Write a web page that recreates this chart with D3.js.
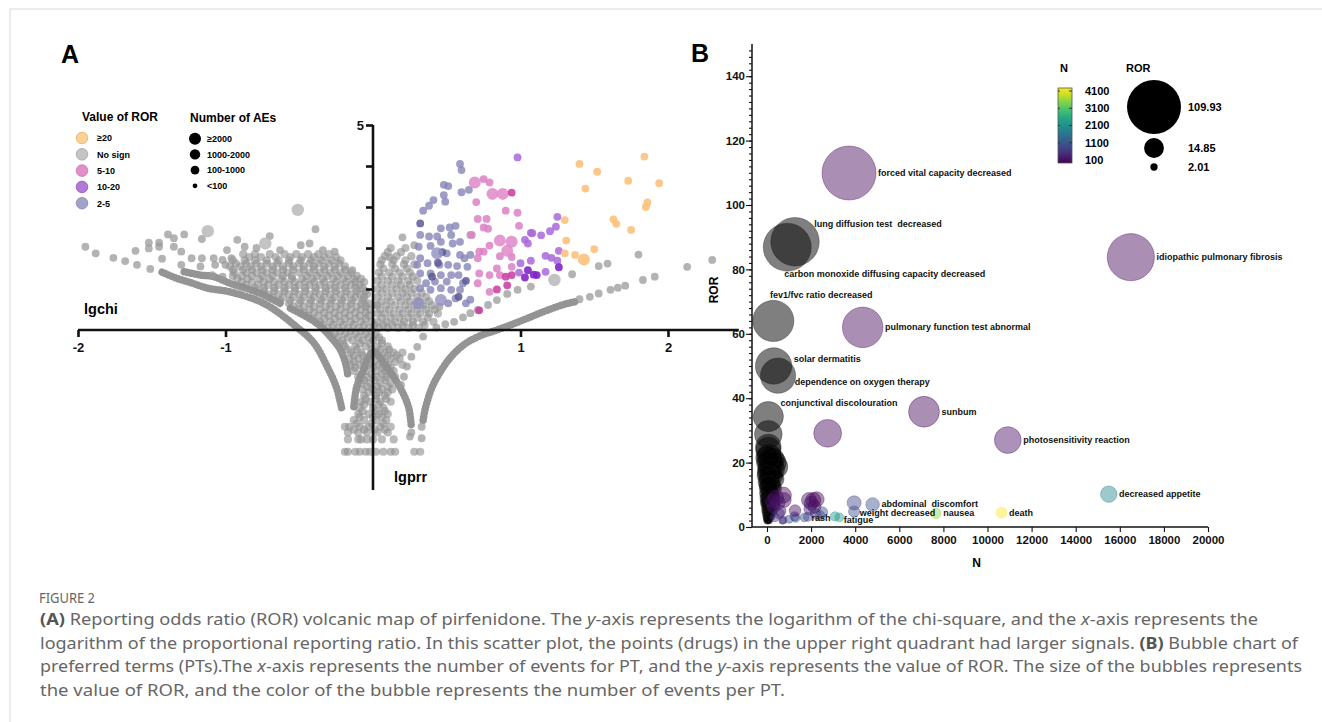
<!DOCTYPE html>
<meta charset="utf-8">
<style>
body { margin: 0; background: #fff; }
svg text { font-family: "Liberation Sans", Arial, sans-serif; }
.bold { font-weight: bold; }
.cap { font-family: "Noto Sans", "Open Sans", sans-serif; fill: #666; }
</style>
<svg width="1322" height="722"></svg>
<script src="https://d3js.org/d3.v7.min.js"></script>
<script>

// ---------- panel A data: [lgprr, lgchi] ----------
var grayPts = [
  [-0.39,2.46],[-0.70,2.29],[-0.92,2.2],[-0.87,2.03],[-0.79,2.0],[-0.63,1.95],[-0.49,2.07],[-0.43,2.11],[-0.34,1.95],[-0.26,1.91],
  [-0.14,1.46],[-0.05,0.61],[0.025,0.61],
  [-1.39,2.33],[-1.28,2.33],[-1.35,2.24],[-1.16,2.22],[-1.52,2.13],[-1.45,2.13],[-1.52,1.99],[-1.45,2.03],[-1.35,2.03],[-1.61,1.93],
  [-1.30,1.91],[-0.99,1.95],[-1.23,1.75],[-1.16,1.75],[-1.08,1.75],[-1.02,1.71],[-1.43,1.74],[-1.30,1.59],[-1.17,1.55],[-1.07,1.59],
  [-1.00,1.59],[-0.96,1.75],[-1.09,1.34],[-1.02,1.30],
  [-1.95,2.03],[-1.88,1.87],[-1.76,1.76],[-1.68,1.68],[-1.60,1.59],[-1.51,1.49],
  [0.20,2.26],[0.115,1.77],[0.28,2.07],[0.66,2.32],[0.45,0.57],
  [0.34,-0.16],[0.30,-0.41],[0.26,-0.65],[0.23,-0.89],[0.21,-1.14],[0.19,-1.34],[0.33,-2.36],[0.33,-2.64],[0.26,-2.5],[0.25,-2.6],
  [0.43,0.06],[0.49,0.14],[0.55,0.2],[0.61,0.31],[0.66,0.41],[0.71,0.49],[0.78,0.61],[0.84,0.73],[0.91,0.88],[0.98,0.98],
  [1.07,1.06],[1.35,1.36],[1.53,1.56],[1.59,1.62],[1.80,1.84],
  [1.40,0.75],[1.47,0.81],[1.53,0.89],[1.61,0.98],[1.66,1.03],[1.71,1.08],[1.83,1.22],[1.91,1.30],[2.13,1.54],[2.30,1.71]
];
var grayBig = [[-0.51,2.93],[-1.12,2.41],[-0.73,2.11],[1.23,1.22]];

// dense part of the gray cloud, read row by row: [lgchi, [lgprr, ...]]
var cloudRows = [
  [1.85, [-0.88,-0.8,-0.7,-0.6,-0.52,-0.44,-0.37,-0.3]],
  [1.78, [-0.84,-0.76,-0.66,-0.56,-0.48,-0.4,-0.33,-0.25]],
  [1.7,  [-0.95,-0.87,-0.8,-0.72,-0.64,-0.57,-0.49,-0.42,-0.35,-0.28,-0.22]],
  [1.62, [-0.93,-0.86,-0.79,-0.72,-0.65,-0.57,-0.5,-0.43,-0.37,-0.3,-0.23]],
  [1.55, [-0.97,-0.9,-0.83,-0.76,-0.68,-0.61,-0.54,-0.47,-0.4,-0.33,-0.26,-0.19]],
  [1.47, [-0.95,-0.88,-0.82,-0.75,-0.68,-0.61,-0.54,-0.47,-0.4,-0.33,-0.26,-0.19]],
  [1.4,  [-0.94,-0.86,-0.79,-0.72,-0.65,-0.58,-0.5,-0.43,-0.36,-0.29,-0.22,-0.15]],
  [1.32, [-0.95,-0.89,-0.82,-0.75,-0.68,-0.61,-0.55,-0.45,-0.38,-0.31,-0.24,-0.17,-0.11]],
  [1.25, [-0.92,-0.85,-0.77,-0.7,-0.62,-0.55,-0.48,-0.41,-0.34,-0.27,-0.2,-0.13,-0.08]],
  [1.17, [-0.89,-0.82,-0.74,-0.67,-0.6,-0.53,-0.46,-0.4,-0.33,-0.25,-0.18,-0.12,-0.06]],
  [1.1,  [-0.86,-0.78,-0.71,-0.64,-0.57,-0.5,-0.43,-0.36,-0.29,-0.22,-0.15,-0.09]],
  [1.02, [-0.8,-0.74,-0.67,-0.6,-0.53,-0.46,-0.39,-0.32,-0.26,-0.19,-0.12,-0.07]],
  [0.95, [-0.74,-0.67,-0.6,-0.53,-0.46,-0.39,-0.32,-0.25,-0.18,-0.11,-0.05]],
  [0.87, [-0.71,-0.64,-0.57,-0.5,-0.43,-0.36,-0.29,-0.22,-0.15,-0.09,-0.04]],
  [0.8,  [-0.68,-0.61,-0.54,-0.47,-0.4,-0.33,-0.26,-0.19,-0.12,-0.06]],
  [0.72, [-0.63,-0.56,-0.49,-0.42,-0.35,-0.28,-0.21,-0.14,-0.07]],
  [0.65, [-0.57,-0.5,-0.43,-0.36,-0.29,-0.22,-0.15,-0.08,-0.03]],
  [0.57, [-0.54,-0.47,-0.4,-0.32,-0.25,-0.18,-0.11,-0.05]],
  [0.5,  [-0.5,-0.43,-0.36,-0.29,-0.22,-0.15,-0.08,-0.02]],
  [0.42, [-0.47,-0.4,-0.33,-0.26,-0.19,-0.12,-0.05]],
  [0.35, [-0.44,-0.37,-0.3,-0.23,-0.16,-0.09,-0.03]],
  [0.27, [-0.41,-0.33,-0.26,-0.19,-0.12,-0.05]],
  [0.2,  [-0.36,-0.29,-0.22,-0.15,-0.08,-0.01]],
  [0.12, [-0.34,-0.27,-0.2,-0.13,-0.06,0.01]],
  [0.05, [-0.31,-0.24,-0.17,-0.1,-0.03]],
  [-0.03,[-0.29,-0.22,-0.15,-0.08,-0.01]],
  [-0.1, [-0.26,-0.19,-0.12,-0.05,0.02]],
  [-0.18,[-0.24,-0.17,-0.1,-0.03,0.04]],
  [-0.25,[-0.21,-0.14,-0.07,0.0,0.06]],
  [-0.33,[-0.2,-0.09,-0.02,0.06]],
  [-0.4, [-0.19,-0.12,-0.05,0.03,0.1]],
  [-0.48,[-0.17,-0.11,-0.01,0.05,0.11]],
  [-0.55,[-0.15,-0.08,0.02,0.08,0.14,0.2]],
  [-0.62,[-0.13,-0.07,0.03,0.1,0.16]],
  [-0.7, [-0.16,-0.1,-0.04,0.06,0.12,0.18]],
  [-0.78,[-0.13,-0.06,0.01,0.08,0.15]],
  [-0.85,[-0.15,-0.09,-0.03,0.04,0.1,0.2]],
  [-0.92,[-0.12,-0.06,0.0,0.06,0.12]],
  [-1.0, [-0.13,-0.05,0.02,0.08,0.14]],
  [-1.08,[-0.08,-0.01,0.06,0.12]],
  [-1.15,[-0.1,-0.04,0.03,0.09,0.15]],
  [-1.22,[-0.06,0.01,0.08]],
  [-1.3, [-0.08,-0.02,0.05,0.12]],
  [-1.38,[-0.04,0.03,0.1]],
  [-1.45,[-0.07,0.0,0.06,0.13]],
  [-1.52,[-0.03,0.04,0.1]],
  [-1.6, [-0.06,0.02,0.08]],
  [-1.68,[-0.05,0.02,0.09]],
  [-1.75,[-0.08,-0.02,0.05,0.12]],
  [-1.82,[-0.06,0.04]],
  [-1.9, [-0.09,0.0,0.07]],
  [-1.98,[-0.07,0.02,0.08]],
  [-2.05,[-0.1,-0.03,0.04,0.1]],
  [-2.12,[-0.09,0.0,0.06]],
  [-2.2, [-0.13,-0.06,0.02,0.09]],
  [-2.28,[-0.11,-0.01,0.07]],
  [-2.36,[-0.19,-0.16,-0.09,-0.03,0.05,0.12]],
  [-2.43,[-0.13,-0.06,0.01,0.08]],
  [-2.5, [-0.17,-0.1,-0.04,0.03,0.1]],
  [-2.67,[-0.17,-0.1,-0.08,-0.04,0.0,0.06,0.14]],
  [-2.97,[-0.19,-0.17,-0.12,-0.09,-0.05,-0.02,0.02,0.07,0.12,0.15,0.28,0.32]],
  // right of the y axis
  [2.0,  [0.12,0.22]],
  [1.9,  [0.1,0.19]],
  [1.8,  [0.08,0.16,0.26]],
  [1.7,  [0.06,0.14,0.22]],
  [1.6,  [0.05,0.13,0.21,0.28]],
  [1.5,  [0.07,0.15,0.23]],
  [1.4,  [0.04,0.11,0.18,0.25]],
  [1.3,  [0.06,0.13,0.2,0.27]],
  [1.2,  [0.03,0.1,0.17,0.24,0.3]],
  [1.1,  [0.06,0.13,0.19,0.25]],
  [1.0,  [0.03,0.09,0.16,0.22,0.28]],
  [0.9,  [0.06,0.13,0.2,0.26,0.33]],
  [0.8,  [0.03,0.1,0.17,0.23,0.3,0.36]],
  [0.7,  [0.06,0.12,0.19,0.25,0.31,0.38]],
  [0.6,  [0.03,0.09,0.15,0.22,0.28,0.34,0.4]],
  [0.5,  [0.05,0.11,0.18,0.24,0.3,0.36,0.42]],
  [0.4,  [0.03,0.08,0.14,0.2,0.26,0.32,0.38,0.44]],
  [0.3,  [0.06,0.12,0.18,0.24,0.3,0.37]],
  [0.2,  [0.03,0.09,0.15,0.21,0.27,0.34,0.41]],
  [0.12, [0.07,0.13,0.2,0.27,0.35]],
  [0.05, [0.04,0.1,0.17,0.24,0.31]]
];

// dense bands of gray points
var bandLeftOuter = [[-1.43,1.41],[-1.33,1.26],[-1.24,1.16],[-1.12,1.02],[-0.97,0.93],[-0.74,0.65],[-0.52,0.08],
  [-0.40,-0.32],[-0.31,-0.9],[-0.25,-1.38],[-0.21,-1.95]];
var bandLeftInner1 = [[-1.28,1.42],[-1.17,1.34],[-1.08,1.30],[-0.97,1.14],[-0.79,0.93],[-0.63,0.65]];
var bandLeftInner2 = [[-0.56,0.53],[-0.38,0.16],[-0.29,-0.16],[-0.22,-0.49],[-0.18,-0.9],[-0.17,-1.14]];
var bandPeak = [[-0.13,-1.87],[-0.11,-1.38],[-0.065,-0.98],[0,-0.53],[0.09,-0.9],[0.18,-1.38],[0.24,-1.87],[0.26,-2.36]];
var bandRightOuter = [[0.34,-2.2],[0.355,-1.91],[0.40,-1.4],[0.46,-1.0],[0.53,-0.65],[0.62,-0.35],[0.72,-0.15],[0.84,0.0],
  [0.96,0.16],[1.07,0.32],[1.18,0.48],[1.30,0.63],[1.37,0.69]];

var ror2to5 = [[0.59,4.05],[0.60,3.90],[0.48,3.54],[0.51,3.51],[0.60,3.36],[0.65,3.42],[0.48,3.29],[0.49,3.13],[0.41,3.17],[0.38,3.03],
  [0.34,2.91],[0.46,2.48],[0.52,2.50],[0.56,2.54],[0.38,2.28],[0.435,2.28],[0.32,2.32],[0.53,2.32],[0.39,2.05],[0.46,2.15],
  [0.54,2.11],[0.59,2.15],[0.31,2.03],[0.50,1.87],[0.59,1.83],[0.62,1.75],[0.66,1.83],[0.32,1.75],[0.30,1.59],[0.37,1.63],
  [0.45,1.59],[0.51,1.59],[0.57,1.56],[0.64,1.54],[0.32,1.38],[0.39,1.38],[0.46,1.34],[0.53,1.34],[0.58,1.34],[0.36,1.14],
  [0.42,1.18],[0.50,1.18],[0.61,1.14],[0.32,1.02],[0.39,0.98],[0.46,1.02],[0.53,0.98],[0.59,0.98],[0.56,0.77],[0.66,0.74],
  [0.63,0.65],[0.51,0.65]];
var ror2to5Dark = [[0.32,2.60],[0.58,0.81],[0.44,1.64],[0.63,1.2],[0.40,1.3],[0.47,1.9]];
var ror2to5Big = [[0.435,1.87],[0.46,0.73],[0.31,0.65]];
var ror5to10 = [[0.75,3.68],[0.79,3.60],[0.70,3.12],[0.90,2.91],[0.98,2.86],[0.71,2.71],[0.77,2.71],[0.75,2.50],[0.78,2.47],[0.99,2.54],
  [0.67,2.32],[0.79,2.06],[0.72,1.91],[0.75,1.91],[0.71,1.75],[0.86,1.80],[0.94,1.78],[0.84,1.50],[0.94,1.54],[0.72,1.38],
  [0.79,1.34],[0.86,1.34],[0.71,1.14],[0.79,0.93]];
var ror5to10Dark = [[0.94,3.35],[0.90,1.30],[0.94,1.34],[0.84,0.99],[0.91,1.09],[0.72,0.48]];
var ror5to10Big = [[0.69,3.60],[0.81,3.32],[0.88,3.32],[0.86,2.18],[0.94,2.15],[0.91,1.93]];
var ror10to20 = [[0.98,4.21],[1.07,2.37],[1.03,2.20],[1.05,2.11],[1.00,1.63],[1.07,1.69],[0.99,1.40],[1.25,2.76],[1.24,2.52],[1.20,2.41],
  [1.14,2.31],[1.08,2.36],[1.26,1.93],[1.17,1.81],[1.21,1.76],[1.25,1.69],[1.17,1.42]];
var ror10to20Dark = [[1.05,1.46],[1.03,1.28],[1.11,1.34],[1.26,1.53],[1.09,1.35]];
var rorGe20 = [[1.84,4.23],[1.40,4.05],[1.52,3.86],[1.73,3.64],[1.94,3.58],[1.44,3.45],[1.86,3.11],[1.85,3.0],[1.30,2.68],[1.63,2.70],
  [1.65,2.59],[1.75,2.44],[1.31,2.18],[1.50,1.97],[1.30,1.87],[1.37,1.83]];
var rorGe20Big = [[1.43,1.72]];

var rorLegend = ["\u226520", "No sign", "5-10", "10-20", "2-5"];
var aeLegend = ["\u22652000", "1000-2000", "100-1000", "<100"];

// ---------- panel B data ----------
var bubbleN =   [3720, 1270, 920, 16500, 286, 4340, 300, 500, 60, 60, 60, 7120, 2750, 10920, 15500, 10640, 7660, 4790, 3950, 3950, 3280, 3080, 1860];
var bubbleROR = [109.93, 88.6, 86.9, 83.8, 64.0, 62.0, 50.0, 47.0, 34.3, 28.8, 24.9, 35.8, 29.1, 27.0, 10.2, 4.45, 4.25, 7.0, 4.8, 7.5, 3.0, 3.3, 3.2];
var bubbleCol = [150, null, null, 150, null, 150, null, null, null, null, null, 150, 150, 250, 1900, 4100, 3400, 1100, 1100, 900, 2300, 2200, 1100];
var bubbleLabel = ["forced vital capacity decreased", "lung diffusion test  decreased", "carbon monoxide diffusing capacity decreased",
  "idiopathic pulmonary fibrosis", "fev1/fvc ratio decreased", "pulmonary function test abnormal", "solar dermatitis",
  "dependence on oxygen therapy", "conjunctival discolouration", "", "", "sunbum", "", "photosensitivity reaction",
  "decreased appetite", "death", "nausea", "abdominal  discomfort", "weight decreased", "", "fatigue", "", "rash"];
var labelNudge = [[0,0],[-7,-18],[-29,27],[0,0],[-26,-26],[0,0],[0,-7],[-3,6],[-5,-14],[0,0],[0,0],[0,0],[0,0],[0,0],
  [0,0],[0,0],[0,0],[0,0],[-2,1],[0,0],[-2,3],[0,0],[-3,1]];
// small bubbles without labels: [N, ROR, colour N]
var smallColoured = [[740,2.2,1000],[1000,2.4,1100],[1300,2.8,1100],[1700,3.0,1000],[2400,3.6,1000],[2500,4.6,1000],[2200,4.2,900],
  [1250,3.3,900],[2100,8.4,150],[1900,8.4,200],[2000,7.4,300],[2150,6.3,300],[2250,8.6,120],[1950,5.6,400],[740,9.9,150],
  [760,8.4,200],[500,7.6,300],[300,6.2,400],[1270,5.1,200],[600,5.0,350],[400,9.1,250],[550,4.2,500],[350,3.0,600],[700,2.0,400],[250,8.0,300]];
var blackCluster = [[60,24],[100,22],[150,21],[50,20],[200,19.5],[120,19],[300,18],[80,18],[440,18.7],[40,17],[160,16.5],[250,16],
  [90,15],[30,14],[140,13.5],[200,13],[60,12],[110,11],[40,10.5],[170,10],[80,9.5],[30,9],[130,8.5],[60,8],[20,7.5],[100,7],
  [50,6.5],[150,6],[30,5.5],[80,5],[20,4.5],[60,4],[110,3.8],[40,3.5],[20,3],[70,2.8],[30,2.5],[50,2.2],[90,2.1],[15,2],
  [250,21],[350,20],[180,17.5],[320,15],[260,12],[220,9],[280,7],[200,5],[150,3.2],[30,21.5],[20,16],[70,13]];

var colorTicks = [100, 1100, 2100, 3100, 4100];
var sizeLegend = [109.93, 14.85, 2.01];

var captionLines = [
  [["(A)","b"],[" Reporting odds ratio (ROR) volcanic map of pirfenidone. The "],["y","i"],["-axis represents the logarithm of the chi-square, and the "],["x","i"],["-axis represents the"]],
  [["logarithm of the proportional reporting ratio. In this scatter plot, the points (drugs) in the upper right quadrant had larger signals. "],["(B)","b"],[" Bubble chart of"]],
  [["preferred terms (PTs).The "],["x","i"],["-axis represents the number of events for PT, and the "],["y","i"],["-axis represents the value of ROR. The size of the bubbles represents"]],
  [["the value of ROR, and the color of the bubble represents the number of events per PT."]]
];
var captionWidths = [1218, 1258, 1262, 745];

var svg = d3.select("svg");

// page frame
svg.append("line").attr("x1", 10).attr("x2", 1322).attr("y1", 9).attr("y2", 9).attr("stroke", "#d9d9d9");
svg.append("line").attr("x1", 10).attr("x2", 10).attr("y1", 9).attr("y2", 722).attr("stroke", "#d9d9d9");

// ================= PANEL A =================
var xA = d3.scaleLinear().domain([-2, 2]).range([78, 668]),
    yA = d3.scaleLinear().domain([0, 5]).range([330, 125]);
var gA = svg.append("g");

var band = d3.line().x(function(d) { return xA(d[0]); }).y(function(d) { return yA(d[1]); }).curve(d3.curveCatmullRom);
[bandLeftOuter, bandLeftInner1, bandLeftInner2, bandPeak, bandRightOuter].forEach(function(b) {
  gA.append("path").attr("d", band(b))
    .attr("fill", "none").attr("stroke", "#8e8e8e").attr("stroke-width", 7.5)
    .attr("stroke-linecap", "round").attr("stroke-dasharray", "0.1 3.4").attr("opacity", 0.95);
});

var cloud = [];
cloudRows.forEach(function(r) { r[1].forEach(function(x) { cloud.push([x, r[0]]); }); });

function dots(data, r, fill, op) {
  gA.append("g").selectAll("circle").data(data).enter().append("circle")
    .attr("cx", function(d) { return xA(d[0]); })
    .attr("cy", function(d) { return yA(d[1]); })
    .attr("r", r).attr("fill", fill).attr("fill-opacity", op);
}
dots(cloud, 4.1, "#8f8f8f", 0.62);
dots(grayPts, 3.9, "#9a9a9a", 0.75);
dots(grayBig, 6.2, "#b8b8b8", 0.85);
dots(ror2to5, 3.9, "#8585b8", 0.8);
dots(ror2to5Dark, 3.9, "#5a5a96", 0.85);
dots(ror2to5Big, 6, "#9090c0", 0.8);
dots(ror5to10, 3.9, "#dc80c4", 0.85);
dots(ror5to10Big, 6, "#df88c8", 0.85);
dots(ror5to10Dark, 3.9, "#c8399f", 0.85);
dots(ror10to20, 3.9, "#a967da", 0.85);
dots(ror10to20Dark, 3.9, "#8226c8", 0.9);
dots(rorGe20, 3.9, "#fbc27c", 0.9);
dots(rorGe20Big, 6, "#fbc27c", 0.9);

// axes A
gA.append("line").attr("x1", xA(-2)).attr("x2", xA(2.48)).attr("y1", yA(0)).attr("y2", yA(0))
  .attr("stroke", "#111").attr("stroke-width", 2.6);
gA.append("line").attr("x1", xA(0)).attr("x2", xA(0)).attr("y1", yA(5)).attr("y2", yA(-3.9))
  .attr("stroke", "#111").attr("stroke-width", 2.6);
var axA = gA.append("g").attr("transform", "translate(0," + yA(0) + ")")
  .call(d3.axisBottom(xA).tickValues([-2, -1, 1, 2]).tickSize(7).tickFormat(function(d) { return String(d); }));
var ayA = gA.append("g").attr("transform", "translate(" + xA(0) + ",0)")
  .call(d3.axisLeft(yA).tickValues([1, 2, 3, 4, 5]).tickSize(7).tickFormat(function(d) { return d === 5 ? "5" : ""; }));
[axA, ayA].forEach(function(a) {
  a.select(".domain").remove();
  a.selectAll("line").attr("stroke", "#111").attr("stroke-width", 2.6);
  a.selectAll("text").attr("font-weight", "bold").attr("font-size", 13).attr("fill", "#111")
    .attr("font-family", '"Liberation Sans", Arial, sans-serif');
});
axA.selectAll("text").attr("y", 13);
ayA.selectAll("text").attr("x", -9);

gA.append("text").attr("class", "bold").attr("x", 84).attr("y", 314).attr("font-size", 14.5).text("lgchi");
gA.append("text").attr("class", "bold").attr("x", 394).attr("y", 482).attr("font-size", 14.5).text("lgprr");
svg.append("text").attr("class", "bold").attr("x", 61).attr("y", 63).attr("font-size", 25).text("A");

// legend A
gA.append("text").attr("class", "bold").attr("x", 82).attr("y", 121).attr("font-size", 12).text("Value of ROR");
var rorFill = ["#fdd096", "#c4c4c4", "#e08fcb", "#b07ad8", "#a3a3c8"],
    rorStroke = ["#e8ad6a", "#a5a5a5", "#c96db1", "#9452c2", "#8585b0"];
var legR = gA.append("g").selectAll("g").data(rorLegend).enter().append("g")
  .attr("transform", function(d, i) { return "translate(82," + (138 + i * 16.3) + ")"; });
legR.append("circle").attr("r", 5.8).attr("fill", function(d, i) { return rorFill[i]; })
  .attr("stroke", function(d, i) { return rorStroke[i]; }).attr("stroke-width", 0.8);
legR.append("text").attr("class", "bold").attr("x", 15).attr("y", 3.3).attr("font-size", 9).text(function(d) { return d; });

gA.append("text").attr("class", "bold").attr("x", 190).attr("y", 122).attr("font-size", 12).text("Number of AEs");
var aeR = [6, 5.2, 4.4, 2.4];
var legN = gA.append("g").selectAll("g").data(aeLegend).enter().append("g")
  .attr("transform", function(d, i) { return "translate(195," + (138.7 + i * 15.7) + ")"; });
legN.append("circle").attr("r", function(d, i) { return aeR[i]; }).attr("fill", "#000");
legN.append("text").attr("class", "bold").attr("x", 12).attr("y", 3.3).attr("font-size", 9).text(function(d) { return d; });

// ================= PANEL B =================
var xB = d3.scaleLinear().domain([0, 20000]).range([767, 1208]),
    yB = d3.scaleLinear().domain([0, 150]).range([527, 44]),
    rB = d3.scaleSqrt().domain([0, 109.93]).range([0, 27]),
    cB = d3.scaleSequential(d3.interpolateViridis).domain([100, 4100]);
var gB = svg.append("g");
var xMinB = -680;

function bubbleFill(c) { return c == null ? "#000" : cB(c); }

var big = bubbleN.map(function(n, i) {
  return { n: n, ror: bubbleROR[i], c: bubbleCol[i], label: bubbleLabel[i], nudge: labelNudge[i] };
});
var black = blackCluster.map(function(d) { return { n: d[0], ror: d[1], c: null }; });
var small = smallColoured.map(function(d) { return { n: d[0], ror: d[1], c: d[2] }; });
var all = big.concat(black).concat(small);

gB.append("g").selectAll("circle").data(all).enter().append("circle")
  .attr("cx", function(d) { return xB(d.n); })
  .attr("cy", function(d) { return yB(d.ror); })
  .attr("r", function(d) { return rB(d.ror); })
  .attr("fill", function(d) { return bubbleFill(d.c); })
  .attr("fill-opacity", function(d) { return d.c == null ? 0.5 : 0.45; })
  .attr("stroke", function(d) { return d.c == null ? "#222" : bubbleFill(d.c); })
  .attr("stroke-opacity", 0.45).attr("stroke-width", 0.8);

gB.append("g").selectAll("text").data(big.filter(function(d) { return d.label; })).enter().append("text")
  .attr("class", "bold").attr("font-size", 9).attr("fill", "#111")
  .attr("x", function(d) { return xB(d.n) + rB(d.ror) + 2 + d.nudge[0]; })
  .attr("y", function(d) { return yB(d.ror) + 3 + d.nudge[1]; })
  .attr("xml:space", "preserve")
  .text(function(d) { return d.label; });

// axes B
gB.append("line").attr("x1", xB(xMinB)).attr("x2", xB(20000)).attr("y1", yB(0)).attr("y2", yB(0))
  .attr("stroke", "#111").attr("stroke-width", 1.5);
gB.append("line").attr("x1", xB(xMinB)).attr("x2", xB(xMinB)).attr("y1", yB(0)).attr("y2", yB(150))
  .attr("stroke", "#111").attr("stroke-width", 1.5);
var axB = gB.append("g").attr("transform", "translate(0," + yB(0) + ")")
  .call(d3.axisBottom(xB).tickValues(d3.range(0, 20001, 2000)).tickSize(5).tickFormat(d3.format("d")));
var ayB = gB.append("g").attr("transform", "translate(" + xB(xMinB) + ",0)")
  .call(d3.axisLeft(yB).tickValues(d3.range(0, 141, 20)).tickSize(6));
var ayMinor = gB.append("g").attr("transform", "translate(" + xB(xMinB) + ",0)")
  .call(d3.axisLeft(yB).tickValues(d3.range(0, 150, 2)).tickSize(3).tickFormat(""));
[axB, ayB, ayMinor].forEach(function(a) {
  a.select(".domain").remove();
  a.selectAll("line").attr("stroke", "#111").attr("stroke-width", 1.1);
  a.selectAll("text").attr("font-weight", "bold").attr("font-size", 11.5).attr("fill", "#111")
    .attr("font-family", '"Liberation Sans", Arial, sans-serif');
});
axB.selectAll("text").attr("y", 9);
ayB.selectAll("text").attr("x", -7);

gB.append("text").attr("class", "bold").attr("font-size", 12).attr("text-anchor", "middle")
  .attr("transform", "translate(718,290) rotate(-90)").text("ROR");
gB.append("text").attr("class", "bold").attr("font-size", 12).attr("text-anchor", "middle")
  .attr("x", xB(9500)).attr("y", 567).text("N");
svg.append("text").attr("class", "bold").attr("x", 691).attr("y", 62).attr("font-size", 25).text("B");

// colour legend
var cbY = d3.scaleLinear().domain([100, 4100]).range([160, 91]);
var grad = svg.append("defs").append("linearGradient").attr("id", "vir")
  .attr("x1", 0).attr("x2", 0).attr("y1", 1).attr("y2", 0);
d3.range(0, 1.01, 0.1).forEach(function(t) {
  grad.append("stop").attr("offset", t).attr("stop-color", d3.interpolateViridis(t));
});
gB.append("text").attr("class", "bold").attr("x", 1060).attr("y", 72).attr("font-size", 11).text("N");
gB.append("rect").attr("x", 1058).attr("y", cbY(4100) - 3).attr("width", 14).attr("height", cbY(100) - cbY(4100) + 6)
  .attr("fill", "url(#vir)").attr("stroke", "#555").attr("stroke-width", 0.8);
var cbT = gB.append("g").selectAll("g").data(colorTicks).enter().append("g")
  .attr("transform", function(d) { return "translate(0," + cbY(d) + ")"; });
cbT.append("line").attr("x1", 1069).attr("x2", 1072).attr("stroke", "#333");
cbT.append("line").attr("x1", 1058).attr("x2", 1060).attr("stroke", "#333");
cbT.append("text").attr("class", "bold").attr("x", 1085).attr("dy", "0.35em").attr("font-size", 11)
  .text(function(d) { return d; });

// size legend
gB.append("text").attr("class", "bold").attr("x", 1126).attr("y", 72).attr("font-size", 11).text("ROR");
var sizeY = [107, 148, 167];
var sl = gB.append("g").selectAll("g").data(sizeLegend).enter().append("g")
  .attr("transform", function(d, i) { return "translate(1154," + sizeY[i] + ")"; });
sl.append("circle").attr("r", function(d) { return rB(d); }).attr("fill", "#000");
sl.append("text").attr("class", "bold").attr("x", 34).attr("dy", "0.35em").attr("font-size", 11)
  .text(function(d) { return d; });

// ================= caption =================
svg.append("text").attr("class", "cap").attr("x", 39).attr("y", 603).attr("font-size", 14)
  .attr("textLength", 56).attr("lengthAdjust", "spacingAndGlyphs").text("FIGURE 2");
captionLines.forEach(function(line, i) {
  var t = svg.append("text").attr("class", "cap").attr("x", 40).attr("y", 625 + i * 23.7)
    .attr("font-size", 16.5).attr("textLength", captionWidths[i]).attr("lengthAdjust", "spacingAndGlyphs")
    .attr("xml:space", "preserve");
  line.forEach(function(seg) {
    var s = t.append("tspan").text(seg[0]);
    if (seg[1] === "b") s.attr("font-weight", "bold").attr("fill", "#555");
    if (seg[1] === "i") s.attr("font-style", "italic");
  });
});

</script>
